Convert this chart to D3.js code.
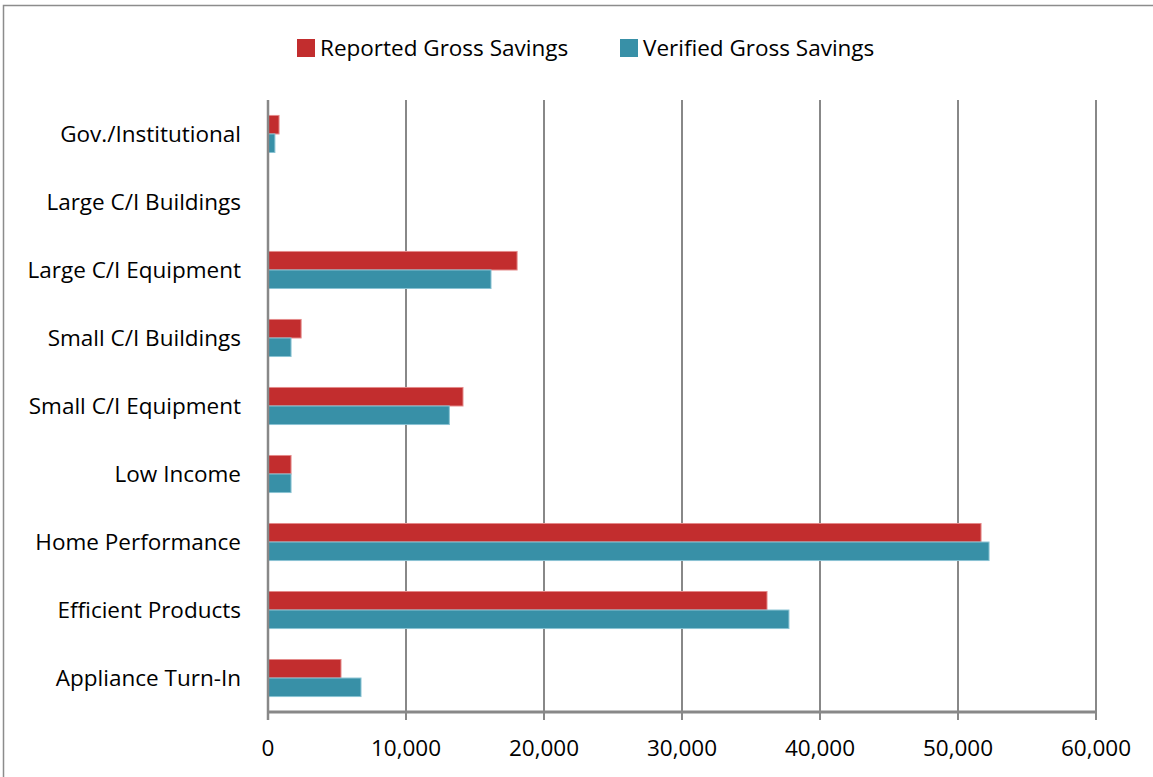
<!DOCTYPE html>
<html>
<head>
<meta charset="utf-8">
<script src="https://cdn.jsdelivr.net/npm/d3@7"></script>
<style>
  body { margin: 0; background: #fff; }
  svg text { font-family: "Open Sans", "Noto Sans", sans-serif; fill: #000; }
</style>
</head>
<body>
<div id="chart"></div>
<script>
// categories top to bottom
var categories = ["Gov./Institutional", "Large C/I Buildings", "Large C/I Equipment",
    "Small C/I Buildings", "Small C/I Equipment", "Low Income",
    "Home Performance", "Efficient Products", "Appliance Turn-In"];
var seriesNames = ["Reported Gross Savings", "Verified Gross Savings"];
var reported = [800, 0, 18050, 2400, 14130, 1670, 51670, 36160, 5290];
var verified = [500, 0, 16160, 1670, 13140, 1670, 52250, 37750, 6740];
var xTicks = [0, 10000, 20000, 30000, 40000, 50000, 60000];
var colors = ["#c22d2e", "#3890a7"];
var strokes = ["#e48a8a", "#8ac3d3"];

var width = 1153, height = 777;
var margin = {left: 268, right: 57, top: 100, bottom: 65};

var svg = d3.select("#chart").append("svg")
    .attr("width", width).attr("height", height);

// outer chart border
svg.append("rect")
    .attr("x", 3.5).attr("y", 5.5)
    .attr("width", width + 10).attr("height", height + 10)
    .attr("fill", "none").attr("stroke", "#8c8c8c").attr("stroke-width", 1.5);

var x = d3.scaleLinear().domain([0, 60000]).range([margin.left, width - margin.right]);
var y = d3.scaleBand().domain(categories).range([margin.top, height - margin.bottom]).paddingInner(0.455).paddingOuter(0.227);
var ySub = d3.scaleBand().domain(seriesNames).range([0, y.bandwidth()]);

// gridlines
svg.append("g").selectAll("line")
    .data(xTicks.slice(1))
    .enter().append("line")
    .attr("x1", function(d){ return x(d); }).attr("x2", function(d){ return x(d); })
    .attr("y1", margin.top).attr("y2", height - margin.bottom + 8)
    .attr("stroke", "#888").attr("stroke-width", 2);

var data = categories.map(function(c, i){ return {name: c, vals: [reported[i], verified[i]]}; });

var groups = svg.append("g").selectAll("g")
    .data(data).enter().append("g")
    .attr("transform", function(d){ return "translate(0," + y(d.name) + ")"; });

groups.selectAll("rect")
    .data(function(d){ return d.vals.map(function(v, j){ return {s: seriesNames[j], v: v, j: j}; }); })
    .enter().append("rect")
    .filter(function(d){ return d.v > 0; })
    .attr("x", x(0))
    .attr("y", function(d){ return ySub(d.s); })
    .attr("width", function(d){ return x(d.v) - x(0); })
    .attr("height", ySub.bandwidth())
    .attr("fill", function(d){ return colors[d.j]; })
    .attr("stroke", function(d){ return strokes[d.j]; })
    .attr("stroke-width", 1);

// category labels
svg.append("g").selectAll("text")
    .data(categories).enter().append("text")
    .attr("x", 241)
    .attr("y", function(d){ return y(d) + y.bandwidth() / 2; })
    .attr("dy", "0.35em")
    .attr("text-anchor", "end")
    .style("font-size", "22.5px")
    .text(function(d){ return d; });

// axes lines
svg.append("line")
    .attr("x1", x(0)).attr("x2", x(0))
    .attr("y1", margin.top).attr("y2", height - margin.bottom + 8)
    .attr("stroke", "#888").attr("stroke-width", 2.5);
svg.append("line")
    .attr("x1", x(0) - 1).attr("x2", x(60000) + 1)
    .attr("y1", height - margin.bottom).attr("y2", height - margin.bottom)
    .attr("stroke", "#888").attr("stroke-width", 3);

// x tick labels
svg.append("g").selectAll("text")
    .data(xTicks).enter().append("text")
    .attr("x", function(d){ return x(d); })
    .attr("y", 748)
    .attr("dy", "0.35em")
    .attr("text-anchor", "middle")
    .style("font-size", "22.5px")
    .text(function(d){ return d3.format(",")(d); });

// legend
var legend = svg.append("g");
var legX = [297, 620];
seriesNames.forEach(function(s, i){
    legend.append("rect")
        .attr("x", legX[i]).attr("y", 39).attr("width", 18).attr("height", 18)
        .attr("fill", colors[i]);
    legend.append("text")
        .attr("x", legX[i] + 23).attr("y", 48).attr("dy", "0.35em")
        .style("font-size", "22.5px")
        .text(s);
});
</script>
</body>
</html>
